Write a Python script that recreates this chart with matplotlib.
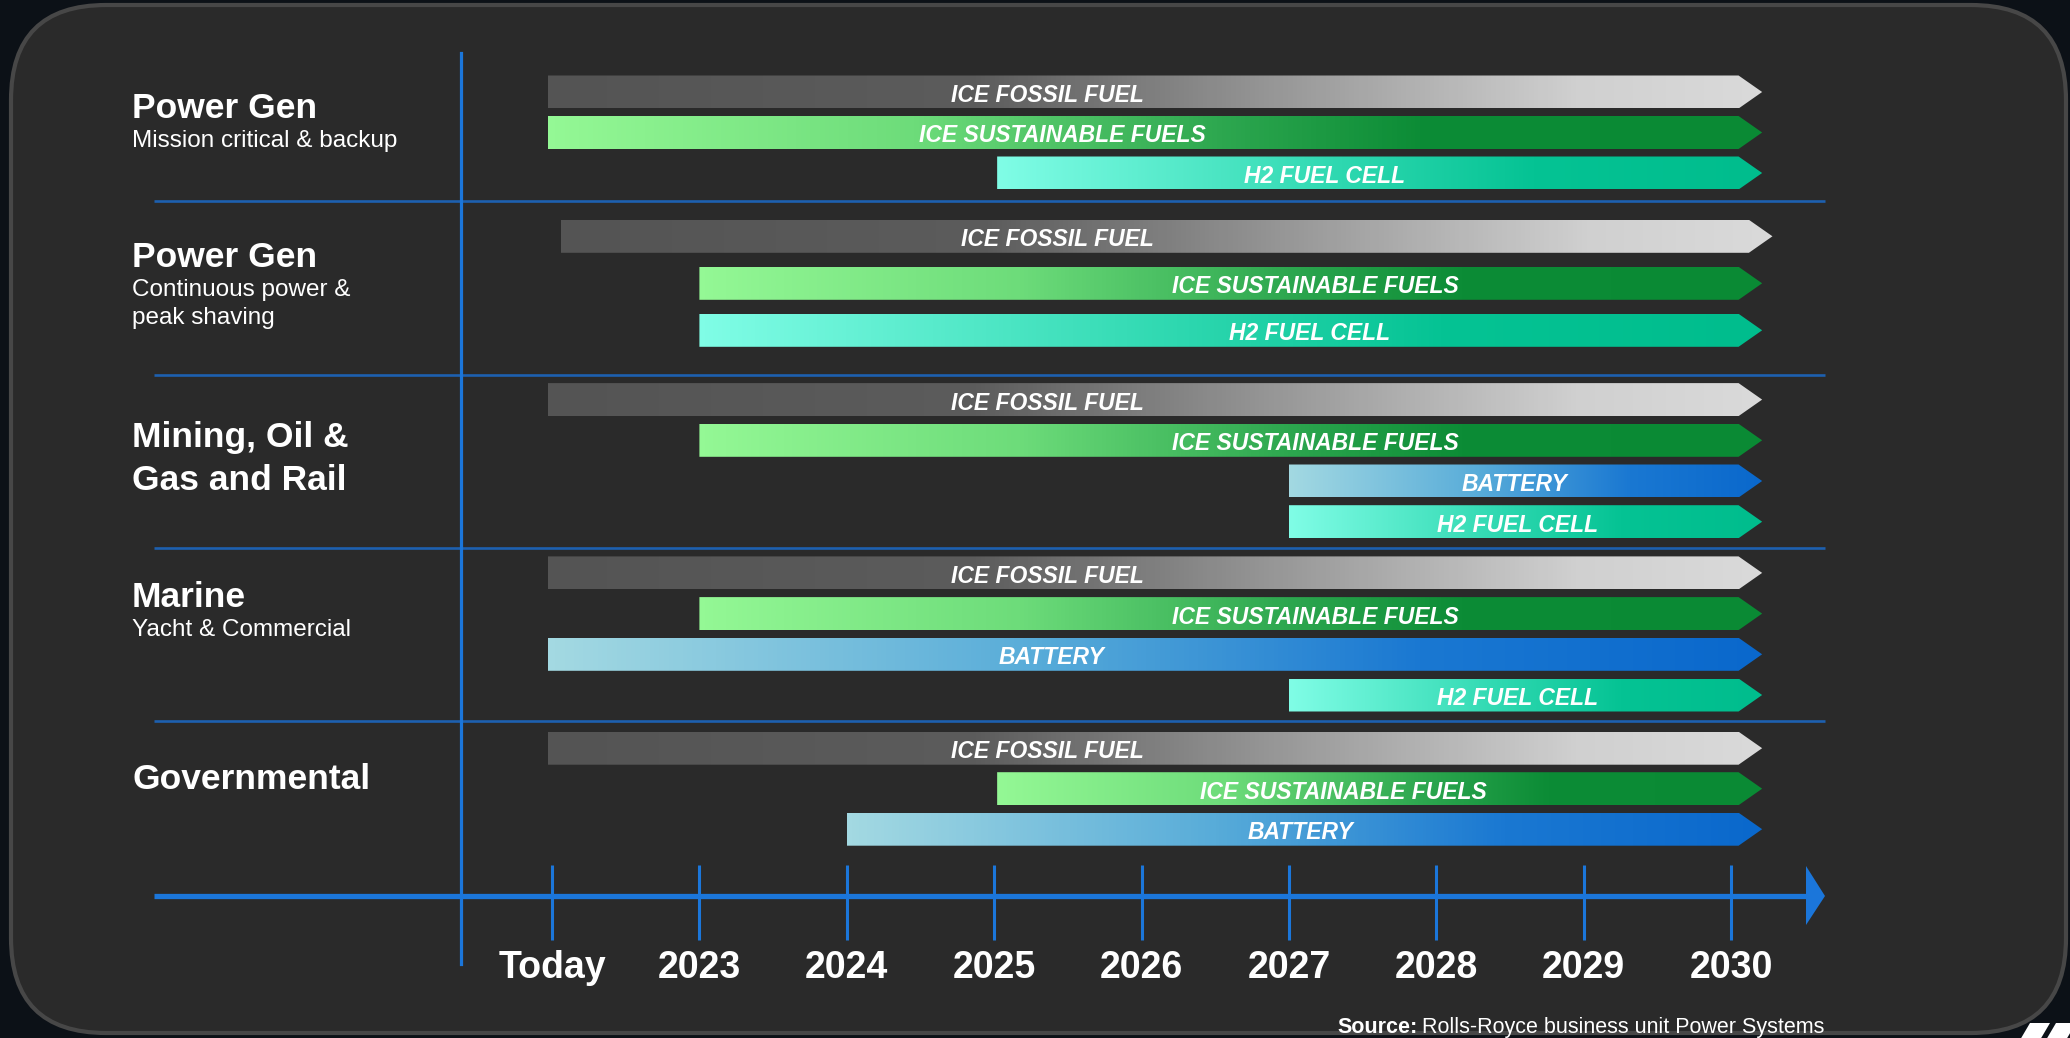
"""
Rolls-Royce Power Systems — technology roadmap by market segment (Today .. 2030).
Gradient arrow bars drawn with imshow clipped to arrow polygons.
"""

import numpy as np
import matplotlib.pyplot as plt
from matplotlib import font_manager
from matplotlib.colors import LinearSegmentedColormap
from matplotlib.patches import Polygon, FancyBboxPatch

# --- Data ---
timeline = ["Today", "2023", "2024", "2025", "2026", "2027", "2028", "2029", "2030"]

segment_titles = [["Power Gen"], ["Power Gen"], ["Mining, Oil &", "Gas and Rail"],
                  ["Marine"], ["Governmental"]]
segment_notes = [["Mission critical & backup"], ["Continuous power &", "peak shaving"], [],
                 ["Yacht & Commercial"], []]

# one entry per bar; start/end in timeline units (Today = 0, 2030 = 8)
bar_segment = [0, 0, 0,
               1, 1, 1,
               2, 2, 2, 2,
               3, 3, 3, 3,
               4, 4, 4]
bar_tech = ["ICE FOSSIL FUEL", "ICE SUSTAINABLE FUELS", "H2 FUEL CELL",
            "ICE FOSSIL FUEL", "ICE SUSTAINABLE FUELS", "H2 FUEL CELL",
            "ICE FOSSIL FUEL", "ICE SUSTAINABLE FUELS", "BATTERY", "H2 FUEL CELL",
            "ICE FOSSIL FUEL", "ICE SUSTAINABLE FUELS", "BATTERY", "H2 FUEL CELL",
            "ICE FOSSIL FUEL", "ICE SUSTAINABLE FUELS", "BATTERY"]
bar_start = [-0.03, -0.03, 3.02,
             0.06, 1.0, 1.0,
             -0.03, 1.0, 5.0, 5.0,
             -0.03, 1.0, -0.03, 5.0,
             -0.03, 3.02, 2.0]
bar_end = [8.05, 8.05, 8.05,
           8.12, 8.05, 8.05,
           8.05, 8.05, 8.05, 8.05,
           8.05, 8.05, 8.05, 8.05,
           8.05, 8.05, 8.05]
# where the label sits along each bar (timeline units)
label_x = [3.36, 3.46, 5.24,
           3.43, 5.18, 5.14,
           3.36, 5.18, 6.53, 6.55,
           3.36, 5.18, 3.39, 6.55,
           3.36, 5.37, 5.08]

source_bold = "Source:"
source_text = "Rolls-Royce business unit Power Systems"

# --- Styles ---
W, H = 2070, 1038
X_TODAY, X_STEP = 552.0, 147.4          # pixel position of "Today" and one year


def px2u(p):
    return (p - X_TODAY) / X_STEP


BAND_TOP, BAND_H = 28.0, 173.3
ROW_FIRST = [64, 35, 25, 25, 27]
ROW_STEP = [40.5, 47, 40.7, 40.7, 40.5]
TITLE_BASE = [118, 267, 447, 607, 789]
HALF = 16.5          # half bar height, px
HEAD = 0.16          # arrow head length, timeline units

cmaps = {
    "ICE FOSSIL FUEL": LinearSegmentedColormap.from_list(
        "fossil", [(0, "#545454"), (0.35, "#5c5c5c"), (0.6, "#979797"), (0.85, "#d0d0d0"), (1, "#dadada")]),
    "ICE SUSTAINABLE FUELS": LinearSegmentedColormap.from_list(
        "sust", [(0, "#94f895"), (0.3, "#6ddc7a"), (0.55, "#2ea850"), (0.72, "#0c8c36"), (1, "#0a8a34")]),
    "H2 FUEL CELL": LinearSegmentedColormap.from_list(
        "h2", [(0, "#80fde6"), (0.45, "#2ed8b0"), (0.7, "#05c394"), (1, "#00bd8d")]),
    "BATTERY": LinearSegmentedColormap.from_list(
        "bat", [(0, "#a3d9e2"), (0.4, "#58acd9"), (0.72, "#1a78d2"), (1, "#0a68cc")]),
}

names = {f.name for f in font_manager.fontManager.ttflist}
HAS_NARROW = "Liberation Sans Narrow" in names
NARROW = "Liberation Sans Narrow" if HAS_NARROW else "Liberation Sans"
SANS = "Liberation Sans" if "Liberation Sans" in names else "DejaVu Sans"
BAR_FS = 20 if HAS_NARROW else 16.5
SRC_FS = 17.5 if HAS_NARROW else 15.5

AXIS_BLUE = "#1b76da"
SEP_BLUE = "#1d60b0"

fig = plt.figure(figsize=(W / 100, H / 100), dpi=100)
fig.patch.set_facecolor("#0c1117")

# background axes in pixel units (layout, titles, axis furniture)
bg = fig.add_axes([0, 0, 1, 1])
bg.set_xlim(0, W)
bg.set_ylim(H, 0)
bg.axis("off")

panel = FancyBboxPatch((11, 5), 2055, 1028, boxstyle="round,pad=0,rounding_size=95",
                       facecolor="#2a2a2a", edgecolor="#474747", linewidth=3, zorder=0)
bg.add_patch(panel)

# separators, vertical axis, timeline arrow
for g in range(1, 5):
    ysep = BAND_TOP + BAND_H * g
    bg.plot([154, 1825], [ysep, ysep], color=SEP_BLUE, lw=1.9, zorder=1, solid_capstyle="butt")
bg.plot([461, 461], [53, 964], color=AXIS_BLUE, lw=2.3, zorder=1)
bg.plot([154, 1808], [896, 896], color=AXIS_BLUE, lw=3.8, zorder=1, solid_capstyle="butt")
bg.add_patch(Polygon([(1806, 866), (1825, 896), (1806, 925)], closed=True,
                     facecolor=AXIS_BLUE, edgecolor="none", zorder=1))

# segment titles
for g in range(len(segment_titles)):
    y = TITLE_BASE[g]
    for line in segment_titles[g]:
        bg.text(132, y, line, color="white", fontsize=25.5, fontweight="bold",
                family=SANS, va="baseline", ha="left")
        y += 43
    y += 29 - 43
    for line in segment_notes[g]:
        bg.text(132, y, line, color="white", fontsize=17.5, family=SANS,
                va="baseline", ha="left")
        y += 28

# source line
src1 = bg.text(1337, 1033, source_bold, color="white", fontsize=SRC_FS, fontweight="bold",
               family=NARROW, va="baseline", ha="left")
fig.canvas.draw()
w1 = src1.get_window_extent().width
bg.text(1337 + w1 + 5, 1033, source_text, color="white", fontsize=SRC_FS,
        family=NARROW, va="baseline", ha="left")

# corner logo fragment (partly outside the picture)
for xs in ([(2030, 1023), (2050, 1023), (2040, 1040), (2020, 1040)],
           [(2056, 1023), (2076, 1023), (2066, 1040), (2046, 1040)]):
    bg.add_patch(Polygon(xs, closed=True, facecolor="white", edgecolor="none",
                         zorder=1, clip_on=False))

# main axes in timeline units (x) and pixels (y)
ax = fig.add_axes([0, 0, 1, 1], zorder=2)
ax.patch.set_alpha(0)
ax.axis("off")

# ticks and tick labels
ax.vlines(range(len(timeline)), 865, 940, color=AXIS_BLUE, lw=2.2)
for i, lab in enumerate(timeline):
    ax.text(i, 978, lab, color="white", fontsize=27, fontweight="bold", family=SANS,
            ha="center", va="baseline")

grad = np.linspace(0, 1, 256).reshape(1, -1)
row_count = {}
for g, tech, x0, x1, lx in zip(bar_segment, bar_tech, bar_start, bar_end, label_x):
    k = row_count.get(g, 0)
    row_count[g] = k + 1
    yc = BAND_TOP + BAND_H * g + ROW_FIRST[g] + ROW_STEP[g] * k
    verts = [(x0, yc - HALF), (x1, yc - HALF), (x1 + HEAD, yc), (x1, yc + HALF), (x0, yc + HALF)]
    arrow = Polygon(verts, closed=True, facecolor="none", edgecolor="none")
    ax.add_patch(arrow)
    im = ax.imshow(grad, cmap=cmaps[tech], extent=[x0, x1 + HEAD, yc + HALF, yc - HALF],
                   aspect="auto", interpolation="bilinear", zorder=2)
    im.set_clip_path(arrow)
    ax.text(lx, yc + 10, tech, color="white", fontsize=BAR_FS, fontweight="bold",
            style="italic", family=NARROW, ha="center", va="baseline", zorder=3)

ax.set_xlim(px2u(0), px2u(W))
ax.set_ylim(H, 0)

plt.savefig("out.png", dpi=100, facecolor=fig.get_facecolor())
